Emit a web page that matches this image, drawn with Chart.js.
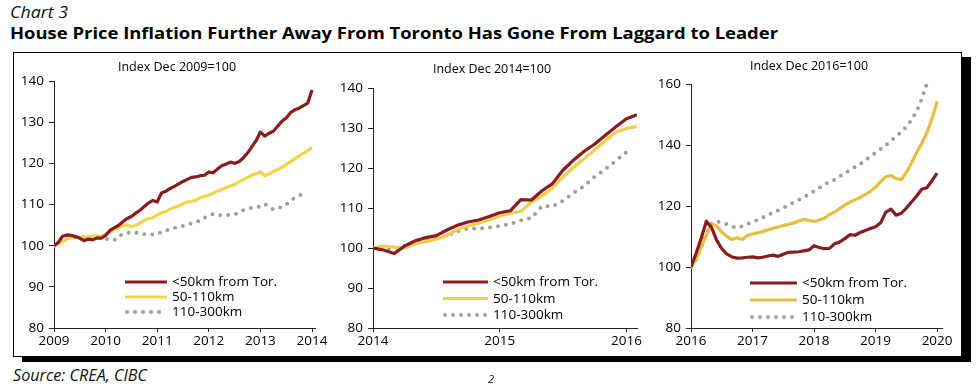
<!DOCTYPE html>
<html><head><meta charset="utf-8">
<script src="https://cdn.jsdelivr.net/npm/chart.js@4.4.0/dist/chart.umd.min.js"></script>
<style>
html,body{margin:0;padding:0;background:#fff;width:980px;height:387px;overflow:hidden;font-family:"Open Sans",sans-serif;}
.abs{position:absolute;white-space:nowrap;color:#111;line-height:1;}
#frame{position:absolute;left:13px;top:52px;width:947px;height:303px;border:1px solid #000;box-shadow:9px 5px 0 #000;background:#fff;}
canvas{position:absolute;}
.sub{position:absolute;white-space:nowrap;color:#000;font-size:12.5px;line-height:1;transform:translateX(-50%);}
</style></head><body>
<div class="abs" id="chartno" style="left:10px;top:4px;font-style:italic;font-size:16px;">Chart 3</div>
<div class="abs" id="title" style="left:10px;top:25px;font-weight:bold;font-size:16px;color:#000;">House Price Inflation Further Away From Toronto Has Gone From Laggard to Leader</div>
<div id="frame"></div>
<canvas id="c1" width="325" height="296" style="left:10px;top:60px"></canvas>
<canvas id="c2" width="328" height="296" style="left:329px;top:60px"></canvas>
<canvas id="c3" width="313" height="296" style="left:647px;top:60px"></canvas>
<div class="sub" style="left:177px;top:61px;">Index Dec 2009=100</div>
<div class="sub" style="left:492px;top:63px;">Index Dec 2014=100</div>
<div class="sub" style="left:809px;top:60px;">Index Dec 2016=100</div>
<div class="abs" id="source" style="left:13px;top:367px;font-style:italic;font-size:16px;">Source: CREA, CIBC</div>
<div class="abs" style="left:488px;top:373px;font-style:italic;font-size:11px;">2</div>
<script>
// ---------- data ----------
const seriesLabels = ['<50km from Tor.', '50-110km', '110-300km'];

const years1 = [2009, 2010, 2011, 2012, 2013, 2014];
const red1 = [100,100.8,102.3,102.6,102.5,102.2,101.8,101.2,101.6,101.4,101.9,101.8,
  102.5,103.7,104.3,104.9,105.8,106.6,107.1,107.9,108.6,109.5,110.4,111.0,
  110.6,112.8,113.2,113.9,114.4,115.0,115.6,116.1,116.6,116.7,117.0,117.1,
  117.9,117.7,118.6,119.4,119.8,120.3,120.0,120.4,121.3,122.5,124.0,125.5,
  127.6,126.6,127.3,127.8,129.0,130.2,131.0,132.3,133.0,133.4,134.0,134.6,
  137.8];
const yellow1 = [100,100.4,101.0,101.6,102.0,102.3,102.1,102.0,102.2,102.3,102.3,102.4,
  102.6,103.2,103.9,104.4,104.8,105.0,104.6,104.9,105.5,106.2,106.6,106.7,
  107.5,108.0,108.3,108.9,109.3,109.6,110.2,110.6,110.8,111.1,111.6,112.0,
  112.3,112.7,113.3,113.6,114.1,114.5,114.9,115.5,116.0,116.6,117.1,117.5,
  117.9,117.0,117.4,118.0,118.5,119.0,119.7,120.4,121.1,121.8,122.4,123.0,
  123.9];
const gray1 = [100,100.8,101.6,102.1,102.2,102.1,102.0,102.1,102.1,102.0,102.0,101.8,
  101.7,101.4,101.3,102.2,102.9,103.1,103.3,103.2,102.9,102.8,102.7,102.7,
  102.8,103.3,103.7,104.0,104.3,104.6,104.8,105.0,105.4,105.7,106.1,106.8,
  107.3,107.7,107.6,107.3,107.4,107.5,107.6,108.0,108.6,109.0,109.2,109.4,
  109.5,110.1,109.4,108.8,109.0,109.4,110.0,110.9,111.7,112.2,112.6,112.8];

const years2 = [2014, 2015, 2016];
const red2 = [100,99.5,98.6,100.5,101.8,102.6,103.1,104.5,105.7,106.5,107.0,107.9,
  108.8,109.3,112.1,112.0,114.3,116.1,119.5,122.0,124.2,126.0,128.2,130.3,
  132.3,133.3];
const yellow2 = [100,100.5,100.2,100.0,101.0,101.6,102.2,103.2,104.6,105.5,106.2,107.0,
  108.0,108.7,109.2,111.5,113.0,115.0,117.8,120.2,122.4,124.5,126.8,129.0,
  129.9,130.4];
const gray2 = [100,100.0,99.8,100.6,101.2,101.8,102.4,103.1,104.1,104.9,104.9,105.1,
  105.5,106.0,106.9,107.5,110.5,110.4,111.8,113.8,115.5,117.8,119.7,121.8,124.0];

const years3 = [2016, 2017, 2018, 2019, 2020];
const red3 = [100,104.5,109.5,115.0,113.0,108.8,106.0,104.2,103.3,102.9,103.0,103.2,
  103.3,103.0,103.2,103.6,103.9,103.5,104.2,104.8,104.9,105.0,105.3,105.6,
  107.0,106.4,106.0,106.1,107.6,108.2,109.3,110.6,110.4,111.3,112.0,112.6,
  113.2,114.5,118.0,119.0,117.0,117.6,119.3,121.3,123.2,125.5,126.0,128.3,
  130.8];
const yellow3 = [100,102.5,106.5,110.5,114.0,113.5,111.5,110.0,109.0,109.6,109.0,110.3,
  110.8,111.2,111.6,112.2,112.7,113.1,113.6,114.0,114.4,115.1,115.6,115.3,
  114.9,115.4,116.0,117.2,118.0,119.2,120.3,121.3,122.0,122.8,123.8,124.8,
  126.2,128.0,129.6,130.0,129.0,128.6,131.0,134.0,137.5,140.5,144.0,148.5,
  154.3];
const gray3 = [100,102.5,106.5,111.0,114.3,115.0,114.5,114.0,113.3,112.8,113.4,114.2,
  114.6,115.5,116.2,117.0,117.9,118.6,119.4,120.3,121.1,122.0,122.9,123.8,
  124.8,125.9,127.0,127.9,128.6,129.7,130.7,131.8,132.8,133.8,135.0,136.3,
  137.4,138.7,139.9,141.4,142.7,144.3,146.0,148.2,151.0,155.0,160.0];

// ---------- helpers ----------
const monthly = (start, vals) => vals.map((v, i) => ({x: start + i / 12, y: v}));
const FONT = '"Open Sans", sans-serif';
const TXT = '#000';
const AX = '#222';

const inlineLegend = {
  id: 'inlineLegend',
  afterDatasetsDraw(chart, args, o) {
    const {ctx, chartArea} = chart;
    const x0 = chartArea.left + o.dx, y0 = chartArea.bottom - o.dy;
    chart.data.datasets.forEach((ds, i) => {
      const y = y0 + i * o.row;
      ctx.save();
      ctx.strokeStyle = ds.borderColor;
      ctx.lineWidth = ds.borderWidth;
      ctx.lineCap = ds.borderCapStyle || 'butt';
      ctx.setLineDash(ds.borderDash || []);
      ctx.beginPath(); ctx.moveTo(x0 + (ds.borderDash ? 2 : 0), y); ctx.lineTo(x0 + o.len, y); ctx.stroke();
      ctx.setLineDash([]);
      ctx.fillStyle = TXT;
      ctx.font = '13.5px ' + FONT;
      ctx.textBaseline = 'middle';
      ctx.fillText(ds.label, x0 + o.len + 5, y + 0.5);
      ctx.restore();
    });
  }
};

function makeChart(id, c) {
  const ds = [
    {label: seriesLabels[0], data: monthly(c.years[0], c.red), borderColor: '#8A1B1E', borderWidth: 3.2},
    {label: seriesLabels[1], data: monthly(c.years[0], c.yellow), borderColor: c.yel, borderWidth: 3.2},
    {label: seriesLabels[2], data: monthly(c.years[0], c.gray), borderColor: '#A0A0A0', borderWidth: 4,
      borderDash: [0, 8], borderCapStyle: 'round'}
  ];
  new Chart(document.getElementById(id), {
    type: 'line',
    data: {datasets: ds.map(d => Object.assign({pointRadius: 0, tension: 0, fill: false, borderJoinStyle: 'round'}, d))},
    options: {
      responsive: false, animation: false, events: [],
      layout: {padding: {top: c.padTop, right: c.padRight, left: 0, bottom: 0}},
      plugins: {legend: {display: false}, tooltip: {enabled: false}, inlineLegend: c.legend},
      scales: {
        x: {
          type: 'linear', min: c.years[0], max: c.xmax,
          afterBuildTicks: s => { s.ticks = c.years.map(v => ({value: v})); },
          afterFit: s => { s.height = 28; },
          ticks: {callback: v => String(v), autoSkip: false, maxRotation: 0, padding: 1, color: TXT,
            font: {family: FONT, size: 13.5}},
          grid: {display: true, drawOnChartArea: false, drawTicks: true, tickLength: 4, color: AX},
          border: {display: true, color: AX, width: 1}
        },
        y: {
          min: 80, max: c.ymax,
          afterFit: s => { s.width = 44; },
          ticks: {stepSize: c.step, padding: 5, color: TXT, font: {family: FONT, size: 13.5}},
          grid: {display: true, drawOnChartArea: false, drawTicks: true, tickLength: 5, color: AX},
          border: {display: true, color: AX, width: 1}
        }
      }
    },
    plugins: [inlineLegend]
  });
}

makeChart('c1', {years: years1, red: red1, yellow: yellow1, gray: gray1, yel: '#F1D748',
  xmax: 2014.058, ymax: 140, step: 10, padTop: 21, padRight: 20,
  legend: {dx: 71, dy: 46, row: 15, len: 42}});
makeChart('c2', {years: years2, red: red2, yellow: yellow2, gray: gray2, yel: '#F0CE50',
  xmax: 2016.083, ymax: 140, step: 10, padTop: 28, padRight: 20,
  legend: {dx: 70, dy: 46, row: 16.5, len: 45}});
makeChart('c3', {years: years3, red: red3, yellow: yellow3, gray: gray3, yel: '#EABD3E',
  xmax: 2020.08, ymax: 160, step: 20, padTop: 24, padRight: 18,
  legend: {dx: 59, dy: 45, row: 17, len: 47}});

// fit header/footer text widths to the reference
function fitW(id, w) {
  const el = document.getElementById(id);
  el.style.transformOrigin = 'left center';
  const cur = el.getBoundingClientRect().width;
  el.style.transform = 'scaleX(' + (w / cur) + ')';
}
fitW('chartno', 58);
fitW('title', 768);
fitW('source', 134);
</script>
</body></html>
